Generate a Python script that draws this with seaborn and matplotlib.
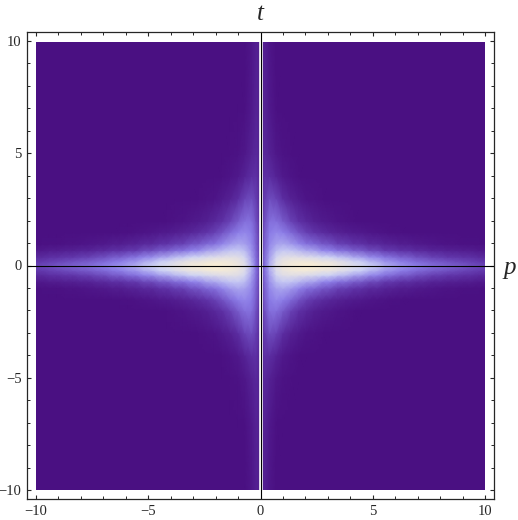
import numpy as np
import pandas as pd
import matplotlib
matplotlib.use("Agg")
import matplotlib.pyplot as plt
from matplotlib.colors import LinearSegmentedColormap
import seaborn as sns

# grid (upper right quarter, rest mirrored)
p_vals = [0.05, 0.2, 0.4, 0.7, 1, 1.35, 1.7, 2.05, 2.4, 2.75, 3.1, 3.45, 3.8, 4.15, 4.5, 4.85,
          5.2, 5.55, 5.9, 6.25, 6.6, 6.95, 7.3, 7.65, 8, 8.35, 8.7, 9.05, 9.4, 9.75, 10]
t_vals = [0, 0.2, 0.4, 0.7, 1, 1.5, 2, 3, 4, 5, 7, 10]
intensity = [
    [.30, .45, .65, .85, .92, .96, .98, 1.0, .99, .97, .95, .91, .87, .83, .79, .74,
     .70, .64, .60, .56, .53, .50, .47, .44, .42, .40, .38, .36, .33, .31, .29],
    [.30, .45, .63, .83, .90, .93, .95, .95, .93, .91, .90, .86, .83, .77, .74, .67,
     .64, .57, .55, .50, .47, .43, .41, .38, .36, .34, .32, .30, .28, .26, .25],
    [.30, .44, .60, .78, .85, .86, .85, .83, .81, .77, .76, .70, .68, .62, .60, .54,
     .52, .46, .44, .39, .38, .33, .32, .28, .27, .24, .24, .21, .20, .17, .17],
    [.28, .42, .56, .68, .72, .71, .67, .62, .60, .53, .51, .45, .44, .38, .37, .31,
     .31, .25, .25, .20, .20, .16, .16, .12, .12, .10, .10, .08, .08, .06, .06],
    [.27, .40, .53, .60, .62, .58, .52, .45, .42, .36, .34, .28, .27, .22, .21, .16,
     .16, .12, .11, .08, .08, .06, .05, .04, .03, .02, .02, .01, .01, .01, .00],
    [.25, .38, .49, .53, .50, .43, .35, .28, .23, .18, .14, .11, .09, .07, .06, .04,
     .03, .02, .01, .01, .00, .00, .00, .00, .00, .00, .00, .00, .00, .00, .00],
    [.22, .34, .45, .45, .38, .29, .21, .15, .10, .07, .05, .03, .02, .01, .00, .00,
     .00, .00, .00, .00, .00, .00, .00, .00, .00, .00, .00, .00, .00, .00, .00],
    [.17, .27, .33, .29, .19, .11, .07, .03, .02, .01, .00, .00, .00, .00, .00, .00,
     .00, .00, .00, .00, .00, .00, .00, .00, .00, .00, .00, .00, .00, .00, .00],
    [.14, .20, .19, .12, .06, .03, .01, .00, .00, .00, .00, .00, .00, .00, .00, .00,
     .00, .00, .00, .00, .00, .00, .00, .00, .00, .00, .00, .00, .00, .00, .00],
    [.12, .15, .11, .05, .02, .01, .00, .00, .00, .00, .00, .00, .00, .00, .00, .00,
     .00, .00, .00, .00, .00, .00, .00, .00, .00, .00, .00, .00, .00, .00, .00],
    [.10, .11, .06, .01, .00, .00, .00, .00, .00, .00, .00, .00, .00, .00, .00, .00,
     .00, .00, .00, .00, .00, .00, .00, .00, .00, .00, .00, .00, .00, .00, .00],
    [.09, .09, .04, .00, .00, .00, .00, .00, .00, .00, .00, .00, .00, .00, .00, .00,
     .00, .00, .00, .00, .00, .00, .00, .00, .00, .00, .00, .00, .00, .00, .00],
]
colors = ["#4a1082", "#6238ac", "#8c7de8", "#cdd2f5", "#fbeed2"]
major_ticks = [-10, -5, 0, 5, 10]

sns.set_style("ticks")
plt.rcParams["font.family"] = ["Liberation Serif", "DejaVu Serif"]

W, H = 518, 520
fig = plt.figure(figsize=(W / 100, H / 100), dpi=100, facecolor="white")


def box(x0, y0, x1, y1):
    # pixel box (from the top left) to figure fractions
    return [x0 / W, 1 - y1 / H, (x1 - x0) / W, (y1 - y0) / H]


# frame with the ticks
ax = fig.add_axes(box(27, 32, 494, 499))
ax.set_xlim(-10.4, 10.4)
ax.set_ylim(-10.4, 10.4)
ax.set_xticks(major_ticks)
ax.set_yticks(major_ticks)
ax.set_xticks(range(-10, 11), minor=True)
ax.set_yticks(range(-10, 11), minor=True)
ax.tick_params(which="major", direction="in", length=3, width=0.8, top=True, right=True,
               labeltop=False, labelright=False, labelsize=10.5, pad=4)
ax.tick_params(which="minor", direction="in", length=2, width=0.7, top=True, right=True)
for s in ax.spines.values():
    s.set_linewidth(0.9)

# whole grid from the quarter
q = np.array(intensity)
right = np.vstack([q[:0:-1], q])
grid = np.hstack([right[:, ::-1], right])
ps = [-v for v in p_vals[::-1]] + p_vals
ts = [-v for v in t_vals[:0:-1]] + t_vals
df = pd.DataFrame(grid, index=ts, columns=ps)

# heatmap on its own axes, index positions stretched to p and t
hm = fig.add_axes(box(36, 42, 485, 490), zorder=0)
ax.set_zorder(1)
ax.patch.set_alpha(0)
cmap = LinearSegmentedColormap.from_list("glow", colors)
sns.heatmap(df, ax=hm, cmap=cmap, vmin=0, vmax=1, cbar=False, shading="gouraud",
            xticklabels=False, yticklabels=False)
ix = np.arange(len(ps))
iy = np.arange(len(ts))
hm.set_xscale("function", functions=(lambda i: np.interp(i, ix, ps), lambda v: np.interp(v, ps, ix)))
hm.set_yscale("function", functions=(lambda i: np.interp(i, iy, ts), lambda v: np.interp(v, ts, iy)))
hm.set_xlim(0, len(ps) - 1)
hm.set_ylim(0, len(ts) - 1)
hm.set_xticks([])
hm.set_yticks([])
hm.set_xlabel("")
hm.set_ylabel("")
hm.axis("off")

# axes through the origin
ax.axvline(0, color="white", lw=2.6)
ax.axvline(0, color="black", lw=0.8)
ax.axhline(0, color="black", lw=0.8)

fig.text(260 / W, 1 - 14 / H, "t", style="italic", fontsize=18, ha="center", va="center")
fig.text(510 / W, 1 - 268 / H, "p", style="italic", fontsize=18, ha="center", va="center")

fig.savefig("out.png", dpi=100)
